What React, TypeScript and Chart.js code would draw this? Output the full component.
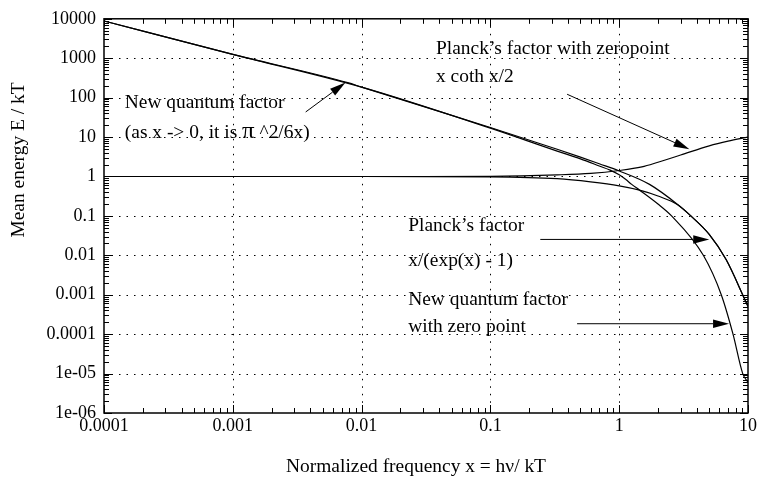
import React, { useEffect, useRef } from "react";
import { Chart, registerables } from "chart.js";

Chart.register(...registerables);

// ---- Axis ticks ----
const xTickValues = [0.0001, 0.001, 0.01, 0.1, 1, 10];
const xTickLabels = ["0.0001", "0.001", "0.01", "0.1", "1", "10"];
const yTickValues = [10000, 1000, 100, 10, 1, 0.1, 0.01, 0.001, 0.0001, 0.00001, 0.000001];
const yTickLabels = ["10000", "1000", "100", "10", "1", "0.1", "0.01", "0.001", "0.0001", "1e-05", "1e-06"];

// ---- Series ----
const newQuantumX = [0.0001, 0.001, 0.0078, 0.01, 0.1, 0.33, 0.5, 0.7, 1, 1.72, 2.87, 3.6, 5, 6.76, 9.3, 10];
const newQuantumY = [8800, 1250, 240, 185, 17.5, 4.9, 3.1, 2.1, 1.38, 0.63, 0.19, 0.1, 0.034, 0.0078, 0.00085, 0.0005];

const newQuantumZeroX = [0.0001, 0.001, 0.01, 0.1, 0.33, 0.5, 0.7, 0.85, 1, 1.12, 1.25, 1.44, 2, 2.55, 4.5, 6.2, 7.65, 9.1, 10];
const newQuantumZeroY = [8800, 1250, 185, 16.8, 4.4, 2.8, 1.85, 1.45, 1.1, 0.85, 0.63, 0.45, 0.2, 0.1, 0.01, 0.001, 0.0001, 0.00001, 0.000006];

const planckX = [0.0001, 0.01, 0.1, 0.33, 0.6, 1, 1.44, 2, 2.87, 3.6, 5, 6.76, 9.3, 10];
const planckY = [1, 1, 0.98, 0.88, 0.73, 0.58, 0.45, 0.32, 0.19, 0.1, 0.034, 0.0078, 0.00085, 0.0005];

const planckZeroX = [0.0001, 0.03, 0.1, 0.33, 0.6, 1, 1.5, 2, 3, 5, 7, 10];
const planckZeroY = [1, 1, 1.01, 1.1, 1.2, 1.42, 1.75, 2.3, 3.5, 6.0, 7.9, 10];

// ---- Annotations (data coordinates) ----
const textLabels = [
  { text: "New quantum factor", x: 0.000145, y: 54.5 },
  { text: "Planck\u2019s factor with zeropoint", x: 0.0378, y: 1270 },
  { text: "x coth x/2", x: 0.0378, y: 256 },
  { text: "Planck\u2019s factor", x: 0.023, y: 0.0424 },
  { text: "x/(exp(x) - 1)", x: 0.023, y: 0.0054 },
  { text: "New quantum factor", x: 0.023, y: 0.00054 },
  { text: "with zero point", x: 0.023, y: 0.000116 },
];
const piLabel = { before: "(as x -> 0, it is ", symbol: "\u03c0", after: " ^2/6x)", x: 0.000145, y: 9.2 };

const arrows = [
  { fromX: 0.00368, fromY: 43.3, toX: 0.0075, toY: 241 },
  { fromX: 0.394, fromY: 122, toX: 3.51, toY: 4.92 },
  { fromX: 0.244, fromY: 0.0253, toX: 5.0, toY: 0.0253 },
  { fromX: 0.471, fromY: 0.000184, toX: 7.13, toY: 0.000184 },
];

const xTitle = "Normalized frequency x = h\u03bd/ kT";
const yTitle = "Mean energy E / kT";

const FONT = '"Liberation Serif", "Times New Roman", serif';
const STRETCH = 1.08;

function drawText(ctx: CanvasRenderingContext2D, text: string, x: number, y: number, size: number, align: CanvasTextAlign = "left") {
  ctx.save();
  ctx.translate(x, y);
  ctx.scale(STRETCH, 1);
  ctx.font = `${size}px ${FONT}`;
  ctx.textAlign = align;
  ctx.textBaseline = "alphabetic";
  ctx.fillStyle = "#000";
  ctx.fillText(text, 0, 0);
  ctx.restore();
}

function textWidth(ctx: CanvasRenderingContext2D, text: string, size: number) {
  ctx.save();
  ctx.font = `${size}px ${FONT}`;
  const w = ctx.measureText(text).width * STRETCH;
  ctx.restore();
  return w;
}

const decorPlugin = {
  id: "decor",
  beforeDatasetsDraw(chart: any) {
    const { ctx, chartArea: a, scales } = chart;
    const xs = scales.x;
    const ys = scales.y;
    ctx.save();
    ctx.strokeStyle = "#000";
    ctx.lineWidth = 1;
    ctx.setLineDash([1.5, 6]);
    for (const v of xTickValues) {
      const px = Math.round(xs.getPixelForValue(v)) + 0.5;
      if (px <= a.left + 2 || px >= a.right - 2) continue;
      ctx.beginPath();
      ctx.moveTo(px, a.top);
      ctx.lineTo(px, a.bottom);
      ctx.stroke();
    }
    for (const v of yTickValues) {
      const py = Math.round(ys.getPixelForValue(v)) + 0.5;
      if (py <= a.top + 2 || py >= a.bottom - 2) continue;
      ctx.beginPath();
      ctx.moveTo(a.left, py);
      ctx.lineTo(a.right, py);
      ctx.stroke();
    }
    ctx.restore();
  },
  afterDatasetsDraw(chart: any) {
    const { ctx, chartArea: a, scales } = chart;
    const xs = scales.x;
    const ys = scales.y;
    ctx.save();
    ctx.setLineDash([]);
    ctx.strokeStyle = "#000";
    // frame
    ctx.lineWidth = 1.5;
    ctx.strokeRect(a.left, a.top, a.right - a.left, a.bottom - a.top);
    // ticks
    ctx.lineWidth = 1;
    const major = 8;
    const minor = 5;
    for (let d = -4; d <= 1; d++) {
      for (let k = 1; k <= 9; k++) {
        const v = k * Math.pow(10, d);
        if (v < 0.0001 * 0.999 || v > 10 * 1.001) continue;
        const len = k === 1 ? major : minor;
        const px = Math.round(xs.getPixelForValue(v)) + 0.5;
        ctx.beginPath();
        ctx.moveTo(px, a.bottom);
        ctx.lineTo(px, a.bottom - len);
        ctx.moveTo(px, a.top);
        ctx.lineTo(px, a.top + len);
        ctx.stroke();
      }
    }
    for (let d = -6; d <= 4; d++) {
      for (let k = 1; k <= 9; k++) {
        const v = k * Math.pow(10, d);
        if (v < 0.000001 * 0.999 || v > 10000 * 1.001) continue;
        const len = k === 1 ? major : minor;
        const py = Math.round(ys.getPixelForValue(v)) + 0.5;
        ctx.beginPath();
        ctx.moveTo(a.left, py);
        ctx.lineTo(a.left + len, py);
        ctx.moveTo(a.right, py);
        ctx.lineTo(a.right - len, py);
        ctx.stroke();
      }
    }
    // labels
    for (const t of textLabels) {
      drawText(ctx, t.text, xs.getPixelForValue(t.x), ys.getPixelForValue(t.y), 18);
    }
    {
      let px = xs.getPixelForValue(piLabel.x);
      const py = ys.getPixelForValue(piLabel.y);
      drawText(ctx, piLabel.before, px, py, 18);
      px += textWidth(ctx, piLabel.before, 18);
      drawText(ctx, piLabel.symbol, px, py, 23);
      px += textWidth(ctx, piLabel.symbol, 23);
      drawText(ctx, piLabel.after, px, py, 18);
    }
    // arrows
    ctx.fillStyle = "#000";
    ctx.lineWidth = 1;
    for (const ar of arrows) {
      const x1 = xs.getPixelForValue(ar.fromX);
      const y1 = ys.getPixelForValue(ar.fromY);
      const x2 = xs.getPixelForValue(ar.toX);
      const y2 = ys.getPixelForValue(ar.toY);
      const ang = Math.atan2(y2 - y1, x2 - x1);
      const L = 16;
      const W = 4.2;
      const bx = x2 - L * Math.cos(ang);
      const by = y2 - L * Math.sin(ang);
      ctx.beginPath();
      ctx.moveTo(x1, y1);
      ctx.lineTo(bx, by);
      ctx.stroke();
      ctx.beginPath();
      ctx.moveTo(x2, y2);
      ctx.lineTo(bx + W * Math.sin(ang), by - W * Math.cos(ang));
      ctx.lineTo(bx - W * Math.sin(ang), by + W * Math.cos(ang));
      ctx.closePath();
      ctx.fill();
    }
    // axis titles
    drawText(ctx, xTitle, 416, 472, 18, "center");
    ctx.save();
    ctx.translate(24, 160);
    ctx.rotate(-Math.PI / 2);
    drawText(ctx, yTitle, 0, 0, 18, "center");
    ctx.restore();
    ctx.restore();
  },
};

function toPoints(xs: number[], ys: number[]) {
  return xs.map((x, i) => ({ x, y: ys[i] }));
}

export default function App() {
  const canvasRef = useRef<HTMLCanvasElement | null>(null);

  useEffect(() => {
    if (!canvasRef.current) return;
    const lineStyle = {
      borderColor: "#000",
      borderWidth: 1.2,
      pointRadius: 0,
      fill: false,
      cubicInterpolationMode: "monotone" as const,
    };
    const chart = new Chart(canvasRef.current, {
      type: "line",
      data: {
        datasets: [
          { label: "New quantum factor", data: toPoints(newQuantumX, newQuantumY), ...lineStyle },
          { label: "New quantum factor with zero point", data: toPoints(newQuantumZeroX, newQuantumZeroY), ...lineStyle },
          { label: "Planck's factor", data: toPoints(planckX, planckY), ...lineStyle },
          { label: "Planck's factor with zeropoint", data: toPoints(planckZeroX, planckZeroY), ...lineStyle },
        ],
      },
      options: {
        responsive: false,
        animation: false,
        events: [],
        layout: { padding: { top: 11, right: 7, left: 0, bottom: 0 } },
        plugins: { legend: { display: false }, tooltip: { enabled: false } },
        scales: {
          x: {
            type: "logarithmic",
            min: 0.0001,
            max: 10,
            grid: { display: false, drawTicks: false },
            border: { display: false },
            afterBuildTicks: (s: any) => {
              s.ticks = xTickValues.map((v) => ({ value: v }));
            },
            afterFit: (s: any) => {
              s.height = 68;
            },
            ticks: {
              autoSkip: false,
              maxRotation: 0,
              padding: 2,
              color: "#000",
              font: { family: FONT, size: 18 },
              callback: (v: any) => {
                const i = xTickValues.findIndex((t) => Math.abs(t - Number(v)) / t < 1e-6);
                return i >= 0 ? xTickLabels[i] : "";
              },
            },
          },
          y: {
            type: "logarithmic",
            min: 0.000001,
            max: 10000,
            grid: { display: false, drawTicks: false },
            border: { display: false },
            afterBuildTicks: (s: any) => {
              s.ticks = yTickValues.map((v) => ({ value: v }));
            },
            afterFit: (s: any) => {
              s.width = 104;
            },
            ticks: {
              autoSkip: false,
              padding: 8,
              color: "#000",
              font: { family: FONT, size: 18 },
              callback: (v: any) => {
                const i = yTickValues.findIndex((t) => Math.abs(t - Number(v)) / t < 1e-6);
                return i >= 0 ? yTickLabels[i] : "";
              },
            },
          },
        },
      },
      plugins: [decorPlugin],
    } as any);
    return () => chart.destroy();
  }, []);

  return (
    <div style={{ position: "fixed", left: 0, top: 0, width: 759, height: 481, background: "#fff" }}>
      <canvas ref={canvasRef} width={759} height={481} style={{ display: "block" }} />
    </div>
  );
}
